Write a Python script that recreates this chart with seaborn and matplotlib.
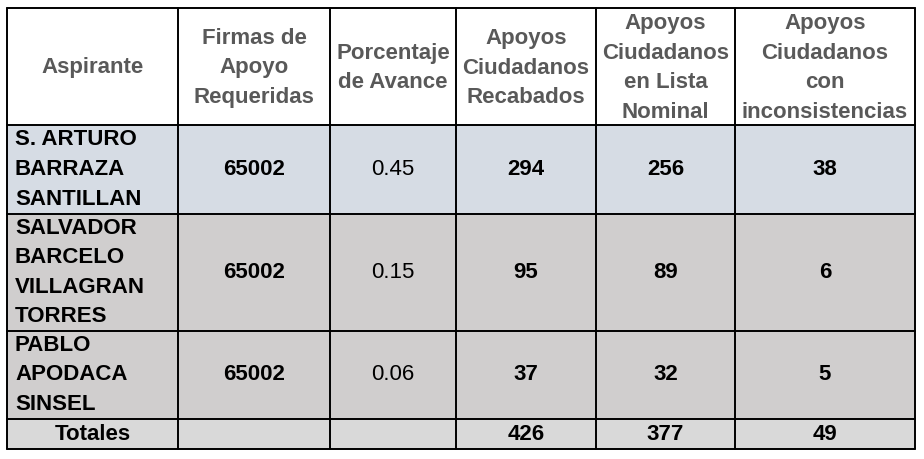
import matplotlib
matplotlib.use("Agg")
import matplotlib.pyplot as plt
import seaborn as sns
from matplotlib.patches import Rectangle

# table content
headers = ["Aspirante", "Firmas de\nApoyo\nRequeridas", "Porcentaje\nde Avance",
           "Apoyos\nCiudadanos\nRecabados", "Apoyos\nCiudadanos\nen Lista\nNominal",
           "Apoyos\nCiudadanos\ncon\ninconsistencias"]
aspirantes = ["S. ARTURO\nBARRAZA\nSANTILLAN", "SALVADOR\nBARCELO\nVILLAGRAN\nTORRES",
              "PABLO\nAPODACA\nSINSEL"]
firmas = [65002, 65002, 65002]
avance = [0.45, 0.15, 0.06]
recabados = [294, 95, 37]
lista_nominal = [256, 89, 32]
inconsistencias = [38, 6, 5]
totales = ["Totales", "", "", "426", "377", "49"]

# layout in pixels
col_edges = [7, 178, 330, 456, 596, 735, 915]
row_edges = [8, 125, 214, 331, 419, 449]
row_colors = ["white", "#D6DCE4", "#D0CECE", "#D0CECE", "#D9D9D9"]

sns.set_theme(style="white")
plt.rcParams["font.family"] = ["Liberation Sans", "DejaVu Sans"]

fig = plt.figure(figsize=(9.24, 4.59), dpi=100)
ax = fig.add_axes([0, 0, 1, 1])
ax.set_xlim(0, 924)
ax.set_ylim(459, 0)
ax.axis("off")

for r in range(len(row_edges) - 1):
    y0, y1 = row_edges[r], row_edges[r + 1]
    ax.add_patch(Rectangle((col_edges[0], y0), col_edges[-1] - col_edges[0], y1 - y0,
                           facecolor=row_colors[r], edgecolor="none", zorder=1))

for x in col_edges:
    ax.plot([x, x], [row_edges[0], row_edges[-1]], color="black", lw=1.4, zorder=3)
for y in row_edges:
    ax.plot([col_edges[0], col_edges[-1]], [y, y], color="black", lw=1.4, zorder=3)


def cx(c):
    return (col_edges[c] + col_edges[c + 1]) / 2


def cy(r):
    return (row_edges[r] + row_edges[r + 1]) / 2


fs = 16
ls = 1.54

for c, h in enumerate(headers):
    ax.text(cx(c), cy(0) + 1.5, h, ha="center", va="center", fontsize=fs, fontweight="bold",
            color="#595959", linespacing=ls, multialignment="center", zorder=4)

for i in range(len(aspirantes)):
    r = i + 1
    y = cy(r)
    ax.text(col_edges[0] + 8, y, aspirantes[i], ha="left", va="center", fontsize=fs,
            fontweight="bold", color="black", linespacing=ls, zorder=4)
    vals = [str(firmas[i]), f"{avance[i]:.2f}", str(recabados[i]),
            str(lista_nominal[i]), str(inconsistencias[i])]
    for c, v in enumerate(vals, start=1):
        ax.text(cx(c), y, v, ha="center", va="center", fontsize=fs,
                fontweight="normal" if c == 2 else "bold", color="black", zorder=4)

for c, v in enumerate(totales):
    ax.text(cx(c), cy(4) + 1, v, ha="center", va="center", fontsize=fs,
            fontweight="bold", color="black", zorder=4)

fig.savefig("out.png", dpi=100)
